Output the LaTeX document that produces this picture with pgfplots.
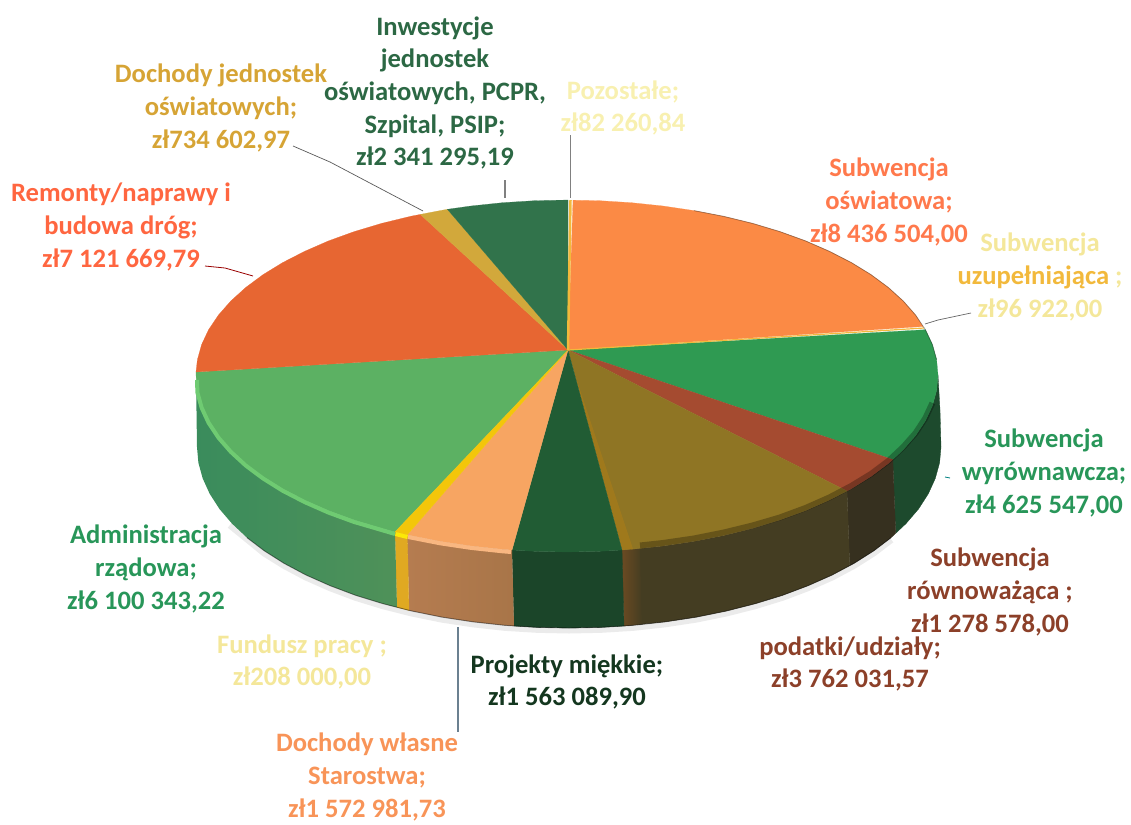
\documentclass[border=0pt]{standalone}
\usepackage{fontspec}
\setmainfont{Carlito}
\usepackage{pgfplots}
\pgfplotsset{compat=1.18}
\definecolor{oswT}{HTML}{FB8A45}
\definecolor{uzuT}{HTML}{F2B93C}
\definecolor{wyrT}{HTML}{2F9A52}
\definecolor{rowT}{HTML}{A54B30}
\definecolor{podT}{HTML}{8F7524}
\definecolor{proT}{HTML}{215C34}
\definecolor{wlaT}{HTML}{F7A562}
\definecolor{funT}{HTML}{F3C60A}
\definecolor{admT}{HTML}{5CB163}
\definecolor{remT}{HTML}{E76632}
\definecolor{jedT}{HTML}{D2A83B}
\definecolor{inwT}{HTML}{31734B}
\definecolor{sA}{HTML}{3A8C5C}
\definecolor{sB}{HTML}{4F9159}
\definecolor{sFun}{HTML}{E0A922}
\definecolor{sW1}{HTML}{B57C50}
\definecolor{sW2}{HTML}{A87548}
\definecolor{sP}{HTML}{1B4529}
\definecolor{sO1}{HTML}{6B4A22}
\definecolor{sO2}{HTML}{443D22}
\definecolor{sR}{HTML}{36301F}
\definecolor{sG}{HTML}{1D4A2D}
\definecolor{hiG}{HTML}{6FCB72}
\definecolor{leadV}{HTML}{6B8090}
\definecolor{olS}{HTML}{A67B1A}
\definecolor{pale}{HTML}{F8F0B0}
\definecolor{paleB}{HTML}{F4E79A}
\tikzset{lab/.style={align=center,inner sep=0pt,font=\fontsize{26.6}{32.7}\selectfont\bfseries}}
\begin{document}
\begin{tikzpicture}
\begin{axis}[hide axis,scale only axis,width=1131pt,height=824pt,
  xmin=0,xmax=1131,ymin=0,ymax=824,y dir=reverse,clip=false]
\path (axis cs:0,0) rectangle (axis cs:1131,824);
% soft shadow
\addplot[line width=7pt,black!8] coordinates {(230,525)(264.3,553)(284,565.3)(306,577)(329.9,587.6)(355.6,597.3)(383,605.7)(411.8,613)(441.8,619.1)(472.7,623.8)(504.4,627.3)(536.6,629.3)(569,630)(601.4,629.3)(633.6,627.3)(665.3,623.8)(696.2,619.1)(726.2,613)(755,605.7)(782.4,597.3)(808.1,587.6)(832,577)(854,565.3)(873.7,552.8)(891.2,539.5)};
% sides
\addplot[draw=sG,fill=sG,line width=.3pt] coordinates {(938,375)(936.6,390.5)(932.4,405.7)(925.4,420.8)(915.6,435.6)(903.2,449.8)(892.8,459.5)(895.7,533.3)(906.1,523.5)(918.6,508.9)(928.3,493.8)(935.3,478.4)(939.6,462.8)(941,447)(940,410)} --cycle;
\addplot[draw=sR,fill=sR,line width=.3pt] coordinates {(892.8,459.5)(888.3,463.5)(870.9,476.5)(851.2,488.8)(847,491)(849.7,565.6)(854,563.3)(873.7,550.8)(891.2,537.5)(895.7,533.3)} --cycle;
\addplot[draw=sO2,fill=sO2,line width=.3pt] coordinates {(847,491)(829.3,500.1)(805.5,510.6)(779.8,520)(752.5,528.3)(723.8,535.4)(693.9,541.3)(663,545.9)(622,550)(624,626)(665.3,621.8)(696.2,617.1)(726.2,611)(755,603.7)(782.4,595.3)(808.1,585.6)(832,575)(849.7,565.6)} --cycle;
\addplot[draw=none,left color=sO1,right color=sO2] coordinates {(622,550)(640,548.5)(642,624.3)(624,626)} --cycle;
\addplot[draw=sP,fill=sP,line width=.3pt] coordinates {(622,550)(599.4,551.3)(567,552)(534.6,551.3)(512,550)(514,626)(536.6,627.3)(569,628)(601.4,627.3)(624,626)} --cycle;
\addplot[draw=none,left color=sW1,right color=sW2] coordinates {(512,550)(502.6,549.3)(471,545.9)(440.1,541.3)(410.2,535.4)(407.3,534.8)(409,610.4)(411.8,611)(441.8,617.1)(472.7,621.8)(504.4,625.3)(514,626)} --cycle;
\addplot[draw=sFun,fill=sFun,line width=.3pt] coordinates {(407.3,534.8)(395,531.9)(397,607.3)(409,610.4)} --cycle;
\addplot[draw=none,left color=sA,right color=sB] coordinates {(395,531.9)(381.5,528.3)(354.2,520)(328.5,510.6)(304.7,500.1)(282.8,488.8)(263.1,476.5)(245.7,463.5)(230.8,449.8)(218.4,435.6)(208.6,420.8)(201.6,405.7)(197.4,390.5)(196,375)(197,447)(198.4,462.8)(202.7,478.4)(209.7,493.8)(219.4,508.9)(231.9,523.5)(246.8,537.5)(264.3,550.8)(284,563.3)(306,575)(329.9,585.6)(355.6,595.3)(383,603.7)(397,607.3)} --cycle;
\addplot[line width=.9pt,black,opacity=.45] coordinates {(246.8,537.5)(264.3,550.8)(284,563.3)(306,575)(329.9,585.6)(355.6,595.3)(383,603.7)(411.8,611)(441.8,617.1)(472.7,621.8)(504.4,625.3)(536.6,627.3)(569,628)(601.4,627.3)(633.6,625.3)(665.3,621.8)(696.2,617.1)(726.2,611)(755,603.7)(782.4,595.3)(808.1,585.6)(832,575)(854,563.3)(873.7,550.8)(891.2,537.5)};
% top face
\addplot[draw=oswT,fill=oswT,line width=.2pt] coordinates {(568,350)(573,200.2)(599.4,200.7)(631.4,202.7)(663,206)(693.9,210.6)(723.8,216.4)(752.5,223.4)(779.8,231.6)(805.5,240.9)(829.3,251.3)(851.2,262.5)(870.9,274.6)(888.3,287.5)(903.2,301)(915.6,315.1)(923,326.5)} --cycle;
\addplot[draw=wyrT,fill=wyrT,line width=.2pt] coordinates {(568,350)(925.4,329.7)(932.4,344.6)(936.6,359.7)(938,375)(936.6,390.5)(932.4,405.7)(925.4,420.8)(915.6,435.6)(903.2,449.8)(892.8,459.5)} --cycle;
\addplot[draw=rowT,fill=rowT,line width=.2pt] coordinates {(568,350)(892.8,459.5)(888.3,463.5)(870.9,476.5)(851.2,488.8)(847,491)} --cycle;
\addplot[draw=podT,fill=podT,line width=.2pt] coordinates {(568,350)(847,491)(829.3,500.1)(805.5,510.6)(779.8,520)(752.5,528.3)(723.8,535.4)(693.9,541.3)(663,545.9)(631.4,549.3)(622,550)} --cycle;
\addplot[draw=none,fill=olS,opacity=.7] coordinates {(575,375)(622,550)(633,549)} --cycle;
\addplot[draw=proT,fill=proT,line width=.2pt] coordinates {(568,350)(622,550)(599.4,551.3)(567,552)(534.6,551.3)(512,550)} --cycle;
\addplot[draw=wlaT,fill=wlaT,line width=.2pt] coordinates {(568,350)(512,550)(502.6,549.3)(471,545.9)(440.1,541.3)(410.2,535.4)(407.3,534.8)} --cycle;
\addplot[draw=admT,fill=admT,line width=.2pt] coordinates {(568,350)(395,531.9)(381.5,528.3)(354.2,520)(328.5,510.6)(304.7,500.1)(282.8,488.8)(263.1,476.5)(245.7,463.5)(230.8,449.8)(218.4,435.6)(208.6,420.8)(201.6,405.7)(197.4,390.5)(196,375)(196,372)} --cycle;
\addplot[draw=funT,fill=funT,line width=.2pt] coordinates {(568,350)(407.3,534.8)(395,531.9)} --cycle;
\addplot[draw=remT,fill=remT,line width=.2pt] coordinates {(568,350)(196,372)(197.4,359.7)(201.6,344.6)(208.6,329.7)(218.4,315.1)(230.8,301)(245.7,287.5)(263.1,274.6)(282.8,262.5)(304.7,251.3)(328.5,240.9)(354.2,231.6)(381.5,223.4)(410.2,216.4)(420.3,214.4)} --cycle;
\addplot[draw=jedT,fill=jedT,line width=.2pt] coordinates {(568,350)(420.3,214.4)(440.1,210.6)(447.4,209.3)} --cycle;
\addplot[draw=inwT,fill=inwT,line width=.2pt] coordinates {(568,350)(447.4,209.3)(471,206)(502.6,202.7)(534.6,200.7)(568,200)} --cycle;
\addplot[draw=uzuT,line width=1.2pt] coordinates {(568,350)(924,328)} ;
\addplot[draw=uzuT,line width=2.5pt] coordinates {(568,350)(570.5,200.1)};
% bevel highlights and shade along the rim
\addplot[line width=4pt,color=hiG] coordinates {(395,534)(381.5,530)(354.2,522)(328.5,512.6)(304.7,502.1)(282.8,490.8)(263.1,478.5)(245.7,465.5)(230.8,451.8)(218.4,437.6)(208.6,422.8)(201.6,407.7)(197.4,392.5)(197,380)};
\addplot[line width=4pt,color=wlaT!80!white] coordinates {(511,552)(502.6,551.3)(471,547.9)(440.1,543.3)(410.2,537.4)(408,537)};
\addplot[line width=4pt,color=yellow!80!funT] coordinates {(407.5,537)(395.5,534)};
\addplot[line width=6pt,black,opacity=.28] coordinates {(932.4,403)(925.4,418)(915.6,433)(903.2,447)(888.3,461)(870.9,474)(851.2,486)(829.3,497.5)(805.5,508)(779.8,517.5)(752.5,525.5)(723.8,532.5)(693.9,538.5)(663,543)(640,545.5)};
\addplot[line width=.8pt,color=black,opacity=.35] coordinates {(693.9,210.6)(723.8,216.4)(752.5,223.4)(779.8,231.6)(805.5,240.9)(829.3,251.3)(851.2,262.5)(870.9,274.6)(888.3,287.5)(903.2,301)(915.6,315.1)(925.4,329.7)(932.4,344.6)(936.6,359.7)};
% leader lines
\addplot[gray!70!black,line width=.7pt] coordinates {(293,146)(330,162)(423,211)};
\addplot[gray,line width=1.2pt] coordinates {(505,180)(505,198)};
\addplot[gray,line width=.9pt] coordinates {(570,135)(570,198)};
\addplot[color=red!60!black,line width=.8pt] coordinates {(205,266)(225,268)(253,276)};
\addplot[gray!80!black,line width=.7pt] coordinates {(925,324)(938,320)(971,313)};
\addplot[teal,line width=.8pt] coordinates {(945,477)(950,478)};
\addplot[color=leadV,line width=1.6pt] coordinates {(458,627)(458,732)};
% labels
\node[lab,text=inwT!90!black] at (axis cs:435,93) {Inwestycje\\jednostek\\oświatowych, PCPR,\\Szpital, PSIP;\\zł2 341 295,19};
\node[lab,text=jedT!90!orange] at (axis cs:221,108) {Dochody jednostek\\oświatowych;\\zł734 602,97};
\node[lab,text=pale] at (axis cs:623,108) {Pozostałe;\\zł82 260,84};
\node[lab,text=orange!50!red!70!white] at (axis cs:889,202) {Subwencja\\oświatowa;\\zł8 436 504,00};
\node[lab,text=paleB] at (axis cs:1040,277) {Subwencja\\\textcolor{uzuT}{uzupełniająca} ;\\zł96 922,00};
\node[lab,text=red!60!orange!75!white] at (axis cs:121,227) {Remonty/naprawy i\\budowa dróg;\\zł7 121 669,79};
\node[lab,text=wyrT!85!teal] at (axis cs:1044,473) {Subwencja\\wyrównawcza;\\zł4 625 547,00};
\node[lab,text=rowT!85!black] at (axis cs:990,592) {Subwencja\\równoważąca ;\\zł1 278 578,00};
\node[lab,text=rowT!85!black] at (axis cs:850,664) {podatki/udziały;\\zł3 762 031,57};
\node[lab,text=proT!60!black] at (axis cs:567,682) {Projekty miękkie;\\zł1 563 089,90};
\node[lab,text=wyrT!85!teal] at (axis cs:146,569) {Administracja\\rządowa;\\zł6 100 343,22};
\node[lab,text=paleB] at (axis cs:302,662) {Fundusz pracy ;\\zł208 000,00};
\node[lab,text=wlaT!90!red] at (axis cs:367,777) {Dochody własne\\Starostwa;\\zł1 572 981,73};
\end{axis}
\end{tikzpicture}
\end{document}
